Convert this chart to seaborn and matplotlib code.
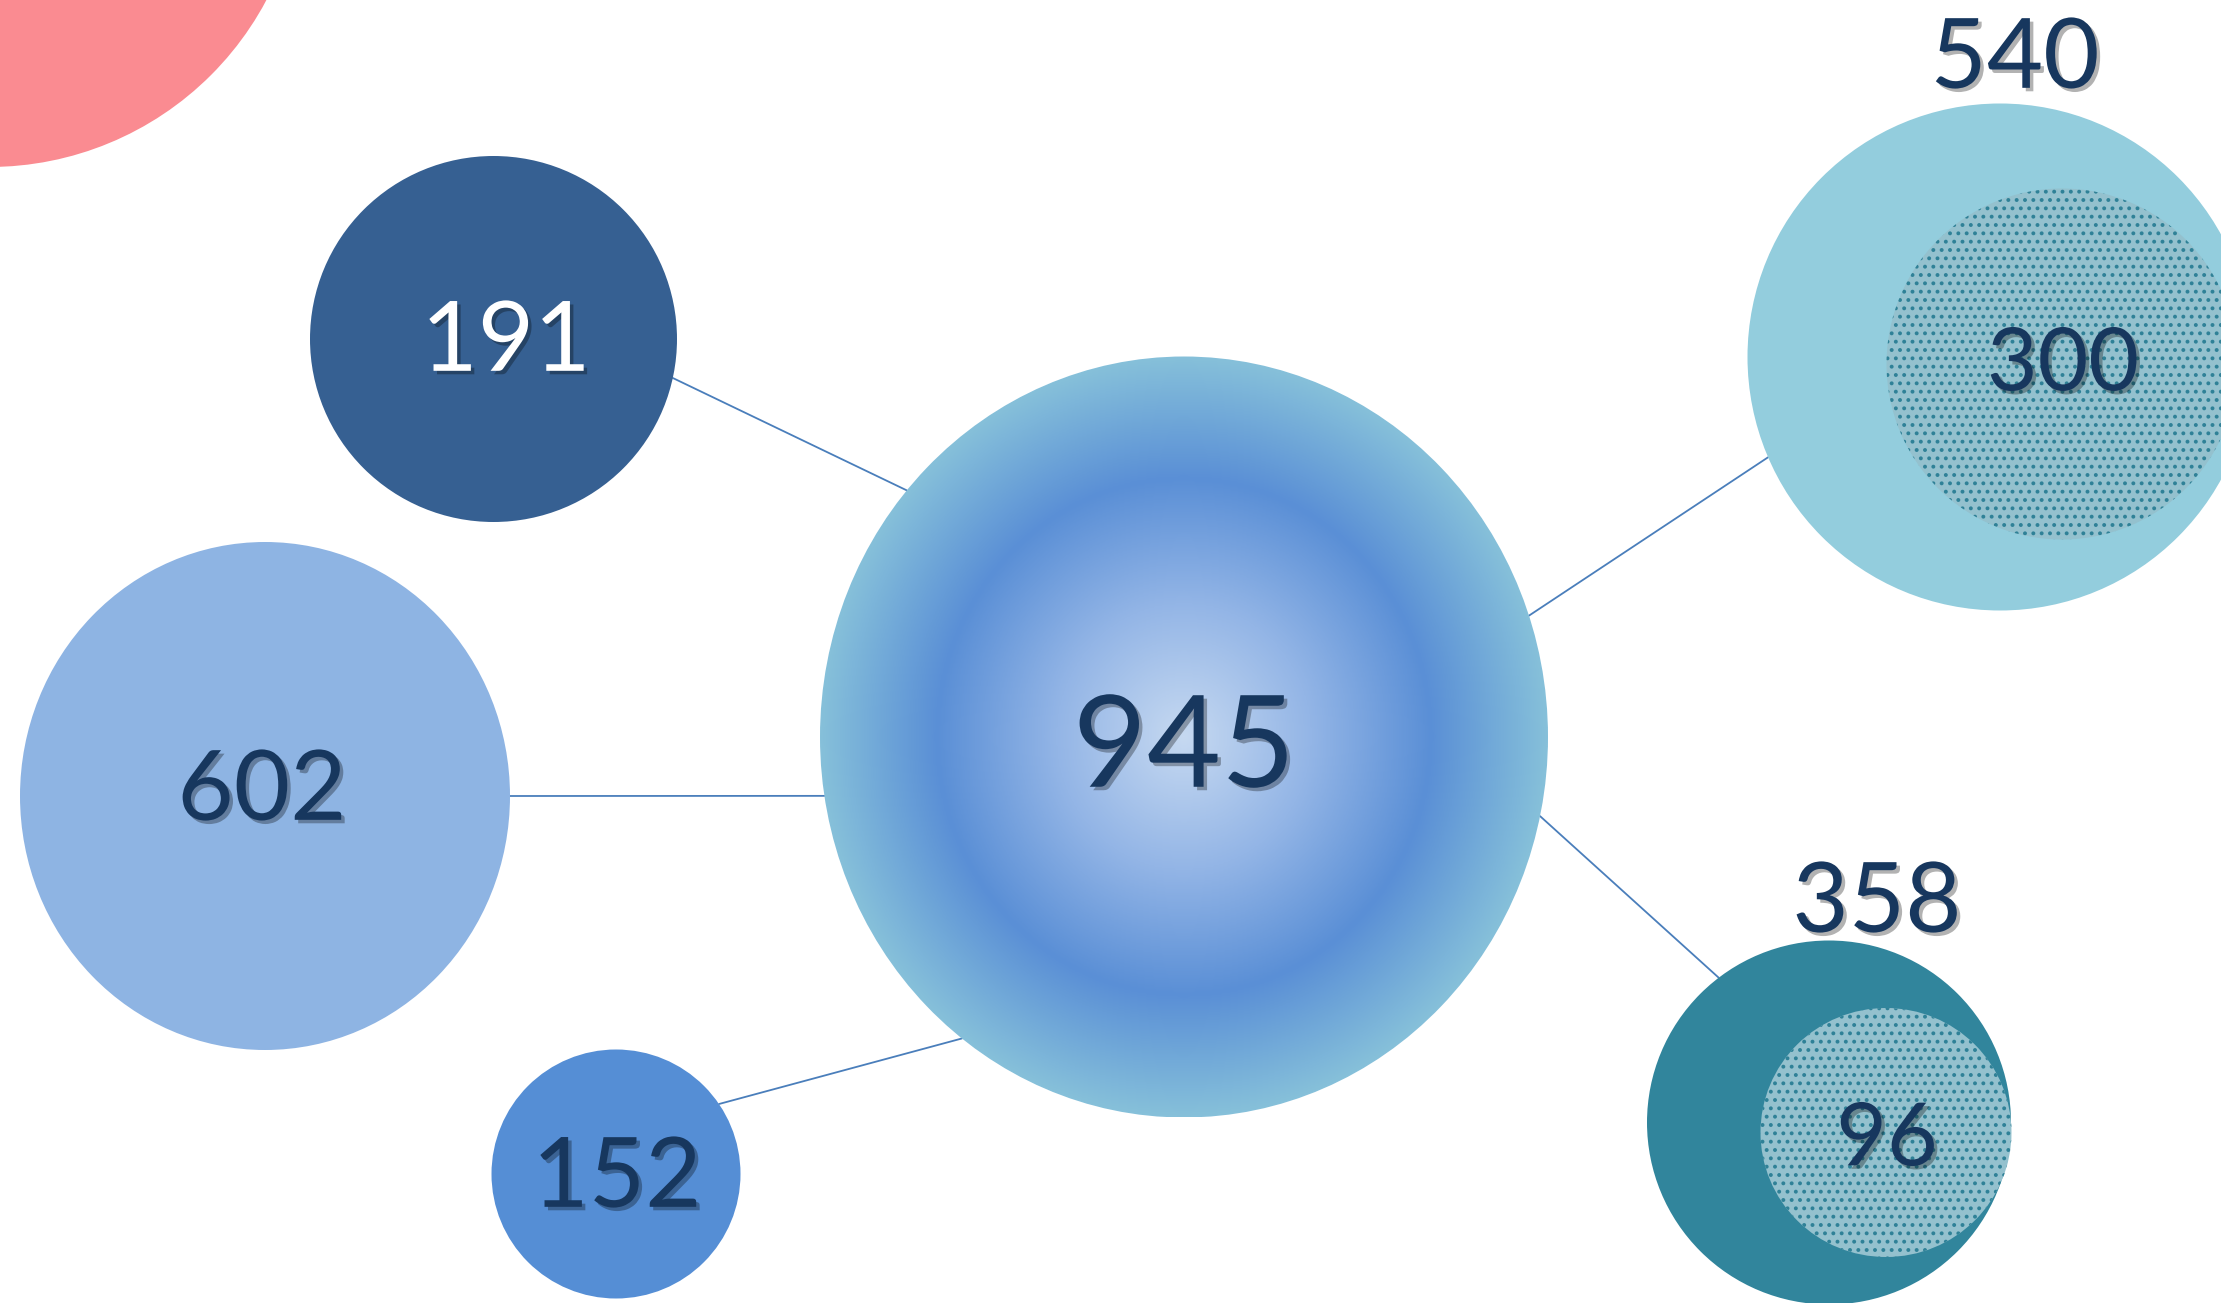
import numpy as np
import matplotlib
matplotlib.use("Agg")
import matplotlib.pyplot as plt
import matplotlib.patheffects as pe
from matplotlib.patches import Ellipse
from matplotlib.colors import LinearSegmentedColormap
import seaborn as sns

sns.set_theme(style="white")
plt.rcParams["font.family"] = ["Lato", "DejaVu Sans"]
plt.rcParams["hatch.linewidth"] = 1.6

# ------------------------------------------------------------------
# DATA
# ------------------------------------------------------------------
values       = [945, 191, 602, 152, 540, 358]   # hub first, then satellites
inner_values = [300, 96]                       # nested inside 540 and 358

# ------------------------------------------------------------------
# LAYOUT  (pixel space, y down)
# ------------------------------------------------------------------
W, H = 2221, 1303
node_x = [1184, 493.5, 265, 616, 2000, 1829]
node_y = [737, 339, 796, 1174, 357, 1122.5]
node_w = [728, 367, 490, 249, 505, 364]
node_h = [761, 366, 508, 249, 507, 364]
node_colors = [None, "#366092", "#8EB4E3", "#558ED5", "#93CDDD", "#31859C"]

inner_x = [2062, 1886]
inner_y = [364, 1132.5]
inner_w = [351, 251]
inner_h = [351, 249]

label_x = [1184, 506, 262, 617, 2015, 1877]
label_y = [741, 336, 785, 1172, 53, 897]
label_size = [92, 70, 70, 70, 70, 70]
inner_label_x = [2063, 1887]
inner_label_y = [359, 1134]
inner_label_size = [63, 63]

NAVY = "#17375E"
label_color = [NAVY, "white", NAVY, NAVY, NAVY, NAVY]

# connector: (satellite index, angle on satellite, angle on hub) in degrees
links = [(1, 12.3, 220.4), (2, 0.0, 171.1), (3, -34.2, 127.6),
         (4, 156.7, -18.6), (5, -127.3, 12.0)]

hub_stops = [(0.0, "#C6D9F1"), (0.35, "#93B5E6"), (0.68, "#5A8FD6"), (1.0, "#86C0DA")]


def edge_point(i, ang):
    t = np.deg2rad(ang)
    return (node_x[i] + node_w[i] / 2 * np.cos(t),
            node_y[i] + node_h[i] / 2 * np.sin(t))


fig = plt.figure(figsize=(W / 100, H / 100), dpi=100)
ax = fig.add_axes([0, 0, 1, 1])
ax.set_xlim(0, W)
ax.set_ylim(H, 0)
ax.axis("off")

# decorative pink disc in the corner
ax.add_patch(Ellipse((-11, -147), 628, 628, facecolor="#FA8B91", lw=0, zorder=1))

# connectors
for i, a_sat, a_hub in links:
    x0, y0 = edge_point(i, a_sat)
    x1, y1 = edge_point(0, a_hub)
    sns.lineplot(x=[x0, x1], y=[y0, y1], ax=ax, color="#4A7EBB",
                 lw=1.3, sort=False, zorder=1)

# satellite bubbles
for i in range(1, len(values)):
    ax.add_patch(Ellipse((node_x[i], node_y[i]), node_w[i], node_h[i],
                         facecolor=node_colors[i], lw=0, zorder=2))

# hub bubble with radial gradient
hub = Ellipse((node_x[0], node_y[0]), node_w[0], node_h[0],
              facecolor="none", lw=0, zorder=3)
ax.add_patch(hub)
cmap = LinearSegmentedColormap.from_list("hub", hub_stops)
x0, x1 = node_x[0] - node_w[0] / 2, node_x[0] + node_w[0] / 2
y0, y1 = node_y[0] - node_h[0] / 2, node_y[0] + node_h[0] / 2
gx, gy = np.meshgrid(np.linspace(x0, x1, 500), np.linspace(y0, y1, 500))
rho = np.sqrt(((gx - node_x[0]) / (node_w[0] / 2)) ** 2 +
              ((gy - node_y[0]) / (node_h[0] / 2)) ** 2)
img = ax.imshow(cmap(np.clip(rho, 0, 1)), extent=(x0, x1, y1, y0),
                origin="upper", interpolation="bilinear", zorder=3)
img.set_clip_path(hub)
ax.set_xlim(0, W)
ax.set_ylim(H, 0)
ax.set_aspect("auto")

# inner patterned bubbles
for k in range(len(inner_values)):
    ax.add_patch(Ellipse((inner_x[k], inner_y[k]), inner_w[k], inner_h[k],
                         facecolor="#94C1CE", edgecolor="#2F8197", lw=0,
                         hatch="..", zorder=4))

shadow = [pe.withSimplePatchShadow(offset=(2.5, -2.5), shadow_rgbFace="black", alpha=0.3)]


def put_label(x, y, txt, size, color):
    digit_h = size * 100 / 72 * 0.7165
    ax.text(x, y + digit_h / 2, txt, ha="center", va="baseline",
            fontsize=size, color=color, path_effects=shadow, zorder=6)


for i, v in enumerate(values):
    put_label(label_x[i], label_y[i], str(v), label_size[i], label_color[i])
for k, v in enumerate(inner_values):
    put_label(inner_label_x[k], inner_label_y[k], str(v), inner_label_size[k], NAVY)

fig.savefig("out.png", dpi=100, facecolor="white")
